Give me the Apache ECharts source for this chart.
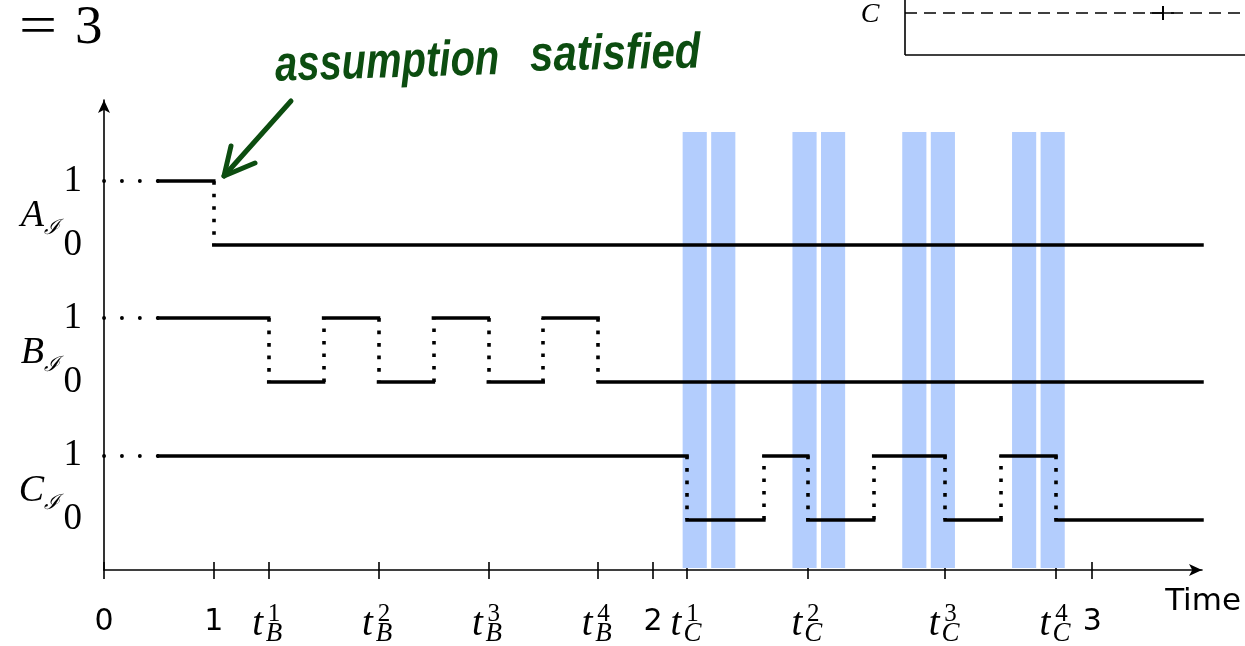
<!DOCTYPE html>
<html><head><meta charset="utf-8">
<script src="https://cdn.jsdelivr.net/npm/echarts@6/dist/echarts.min.js"></script>
<style>html,body{margin:0;padding:0;background:#fff}#c{width:1245px;height:646px}</style>
</head><body><div id="c"></div>
<script>
// ---- data ----
const xMax = 10;
const yMax = 7.35;
const numTickValues = [0, 1, 5.0, 9.0];
const numTickLabels = ['0', '1', '2', '3'];
const tTickValues = [1.5, 2.5, 3.5, 4.5, 5.31, 6.41, 7.66, 8.67];
const tTickSubs = ['B', 'B', 'B', 'B', 'C', 'C', 'C', 'C'];
const tTickSups = ['1', '2', '3', '4', '1', '2', '3', '4'];
const signalNames = ['A', 'B', 'C'];
const signalBases = [5.08, 2.94, 0.79];
const signalEnd = 10;
const stepsA = [[0.5, 1], [1.0, 0]];
const stepsB = [[0.5, 1], [1.5, 0], [2.0, 1], [2.5, 0], [3.0, 1], [3.5, 0], [4.0, 1], [4.5, 0]];
const stepsC = [[0.5, 1], [5.31, 0], [6.01, 1], [6.41, 0], [7.01, 1], [7.66, 0], [8.17, 1], [8.67, 0]];
const levelLabels = ['0', '1'];
const bandStarts = [5.27, 5.53, 6.27, 6.53, 7.27, 7.53, 8.27, 8.53];
const bandWidth = 0.22;
const bandBottom = 0.03, bandTop = 6.85;

// ---- build ----
const allSteps = [stepsA, stepsB, stepsC];
const hSegs = [], vSegs = [], leadSegs = [];
allSteps.forEach((steps, k) => {
  const base = signalBases[k];
  leadSegs.push({coords: [[0, base + steps[0][1]], [steps[0][0], base + steps[0][1]]]});
  for (let i = 0; i < steps.length; i++) {
    const x0 = steps[i][0];
    const x1 = i + 1 < steps.length ? steps[i + 1][0] : signalEnd;
    hSegs.push({coords: [[x0, base + steps[i][1]], [x1, base + steps[i][1]]]});
    if (i + 1 < steps.length) {
      vSegs.push({coords: [[x1, base + steps[i][1]], [x1, base + steps[i + 1][1]]]});
    }
  }
});
const levelValues = [];
signalBases.forEach(b => { levelValues.push(b, b + 1); });
const nameValues = signalBases.map(b => b + 0.45);
const allTicks = numTickValues.concat(tTickValues);
const idxOf = (arr, v) => arr.findIndex(a => Math.abs(a - v) < 1e-6);
const bands = bandStarts.map(s => [{xAxis: s, yAxis: bandBottom}, {xAxis: s + bandWidth, yAxis: bandTop}]);

const serif = 'Liberation Serif';
const chart = echarts.init(document.getElementById('c'), null, {renderer: 'canvas'});
const baseX = {type: 'value', min: 0, max: xMax, position: 'bottom', splitLine: {show: false}};
const baseY = {type: 'value', min: 0, max: yMax, position: 'left', splitLine: {show: false}};

chart.setOption({
  animation: false,
  backgroundColor: '#fff',
  grid: {left: 104, right: 43, top: 100, bottom: 76, containLabel: false, outerBoundsMode: 'none'},
  xAxis: [
    Object.assign({}, baseX, {
      axisLine: {show: true, onZero: false, symbol: ['none', 'arrow'], symbolSize: [9, 13], lineStyle: {color: '#000', width: 1.6}},
      axisTick: {show: true, customValues: allTicks, length: 9, lineStyle: {color: '#000', width: 1.6}},
      axisLabel: {show: false},
      name: 'Time', nameLocation: 'end', nameGap: 39,
      nameTextStyle: {fontFamily: 'DejaVu Sans', fontSize: 31, lineHeight: 31, color: '#000', align: 'right', verticalAlign: 'top', padding: [16, 0, 0, 0]}
    }),
    Object.assign({}, baseX, {
      axisLine: {show: false, onZero: false},
      axisTick: {show: true, inside: true, customValues: allTicks, length: 8, lineStyle: {color: '#000', width: 1.6}},
      axisLabel: {customValues: tTickValues, margin: 35,
        formatter: v => '{t|t}{s|' + tTickSubs[idxOf(tTickValues, v)] + '}',
        rich: {
          t: {fontFamily: serif, fontStyle: 'italic', fontSize: 39, lineHeight: 39, verticalAlign: 'top', color: '#000'},
          s: {fontFamily: serif, fontStyle: 'italic', fontSize: 27, lineHeight: 27, width: 22, align: 'left', verticalAlign: 'top', padding: [15, 0, 0, 0], color: '#000'}
        }}
    }),
    Object.assign({}, baseX, {
      axisLine: {show: false, onZero: false},
      axisTick: {show: false},
      axisLabel: {customValues: tTickValues, margin: 32,
        formatter: v => '{t|t}{s|' + tTickSups[idxOf(tTickValues, v)] + '}',
        rich: {
          t: {fontFamily: serif, fontStyle: 'italic', fontSize: 39, lineHeight: 39, verticalAlign: 'top', color: 'rgba(0,0,0,0)'},
          s: {fontFamily: serif, fontSize: 25, lineHeight: 25, width: 22, align: 'left', verticalAlign: 'top', padding: [0, 0, 0, 0], color: '#000'}
        }}
    }),
    Object.assign({}, baseX, {
      axisLine: {show: false, onZero: false},
      axisTick: {show: false},
      axisLabel: {show: true, customValues: numTickValues, margin: 37,
        formatter: v => '{d|' + numTickLabels[idxOf(numTickValues, v)] + '}',
        rich: {d: {fontFamily: 'DejaVu Sans', fontSize: 30, lineHeight: 30, color: '#000'}},
        fontFamily: 'DejaVu Sans', fontSize: 30, color: '#000'}
    })
  ],
  yAxis: [
    Object.assign({}, baseY, {
      axisLine: {show: true, onZero: false, symbol: ['none', 'arrow'], symbolSize: [9, 13], lineStyle: {color: '#000', width: 1.6}},
      axisTick: {show: false},
      axisLabel: {customValues: levelValues, formatter: v => levelLabels[idxOf(levelValues, v) % 2],
        fontFamily: serif, fontSize: 37, color: '#000', margin: 22}
    }),
    Object.assign({}, baseY, {
      axisLine: {show: false, onZero: false},
      axisTick: {show: false},
      axisLabel: {customValues: nameValues, margin: 44,
        formatter: v => '{n|' + signalNames[idxOf(nameValues, v)] + '}{s|\u2110}',
        rich: {
          n: {fontFamily: serif, fontStyle: 'italic', fontSize: 38, lineHeight: 38, verticalAlign: 'top', color: '#000'},
          s: {fontFamily: 'DejaVu Serif', fontStyle: 'italic', fontSize: 21, lineHeight: 21, verticalAlign: 'top', padding: [21, 0, 0, 0], color: '#000'}
        }}
    })
  ],
  series: [
    {type: 'line', xAxisIndex: 0, yAxisIndex: 0, data: [], symbol: 'none', silent: true, z: 1,
      markArea: {silent: true, itemStyle: {color: '#b3cdfd', opacity: 1}, data: bands}},
    {type: 'lines', coordinateSystem: 'cartesian2d', xAxisIndex: 0, yAxisIndex: 0, silent: true, z: 3,
      lineStyle: {color: '#000', width: 3.5, opacity: 1, cap: 'square'}, data: hSegs},
    {type: 'lines', coordinateSystem: 'cartesian2d', xAxisIndex: 0, yAxisIndex: 0, silent: true, z: 3,
      lineStyle: {color: '#000', width: 3.6, opacity: 1, type: [3.6, 8.9], cap: 'butt'}, data: vSegs},
    {type: 'lines', coordinateSystem: 'cartesian2d', xAxisIndex: 0, yAxisIndex: 0, silent: true, z: 3,
      lineStyle: {color: '#000', width: 3.8, opacity: 1, type: [0.1, 17.8], cap: 'round'}, data: leadSegs}
  ],
  graphic: [
    {type: 'text', x: 19, y: 29, scaleX: 1.25, style: {text: '=', fontFamily: serif, fontSize: 54, fill: '#000', verticalAlign: 'middle'}},
    {type: 'text', x: 75, y: 29, style: {text: '3', fontFamily: serif, fontSize: 55, fill: '#000', verticalAlign: 'middle'}},
    {type: 'text', x: 275, y: 67, rotation: 0.03, scaleX: 0.8, style: {text: 'assumption', fontFamily: 'Liberation Sans', fontStyle: 'italic', fontWeight: 'bold', fontSize: 50, fill: '#0c4d10', verticalAlign: 'middle'}},
    {type: 'text', x: 530, y: 57, rotation: 0.02, scaleX: 0.84, style: {text: 'satisfied', fontFamily: 'Liberation Sans', fontStyle: 'italic', fontWeight: 'bold', fontSize: 50, fill: '#0c4d10', verticalAlign: 'middle'}},
    {type: 'polyline', shape: {points: [[291, 101], [224, 176]]}, style: {stroke: '#0c4d10', lineWidth: 5, lineCap: 'round', fill: null}},
    {type: 'polyline', shape: {points: [[231, 146], [224, 176], [255, 163]]}, style: {stroke: '#0c4d10', lineWidth: 5, lineCap: 'round', lineJoin: 'round', fill: null}},
    {type: 'line', shape: {x1: 905, y1: 0, x2: 905, y2: 55}, style: {stroke: '#000', lineWidth: 1.6}},
    {type: 'line', shape: {x1: 905, y1: 55, x2: 1245, y2: 55}, style: {stroke: '#000', lineWidth: 1.6}},
    {type: 'line', shape: {x1: 905, y1: 13, x2: 1245, y2: 13}, style: {stroke: '#000', lineWidth: 1.5, lineDash: [12, 7]}},
    {type: 'line', shape: {x1: 1163, y1: 6, x2: 1163, y2: 20}, style: {stroke: '#000', lineWidth: 2}},
    {type: 'line', shape: {x1: 1150, y1: 13, x2: 1174, y2: 13}, style: {stroke: '#000', lineWidth: 1.5}},
    {type: 'text', x: 870, y: 15, style: {text: 'C', fontFamily: serif, fontStyle: 'italic', fontSize: 28, fill: '#000', align: 'center', verticalAlign: 'middle'}}
  ]
});
</script></body></html>
